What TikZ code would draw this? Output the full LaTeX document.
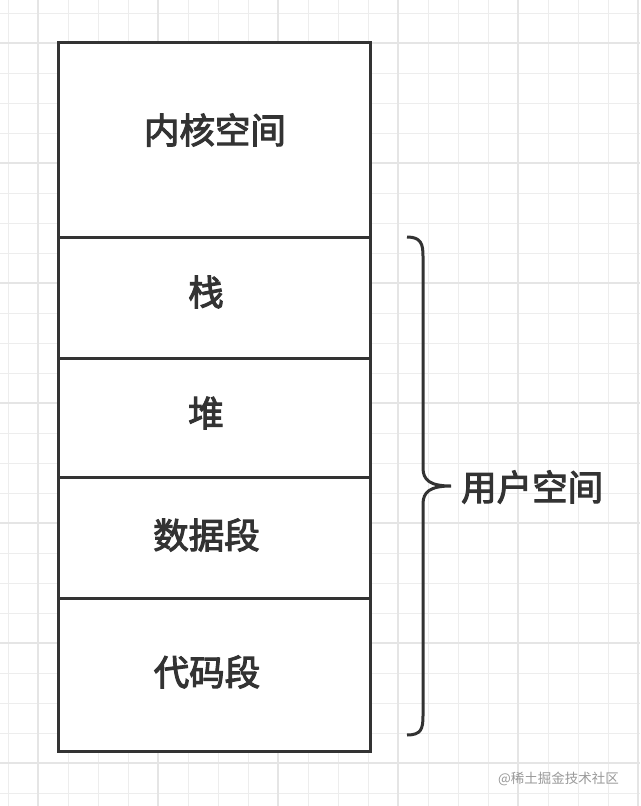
\documentclass[tikz,border=0pt]{standalone}
\usepackage{fontspec}
\newfontfamily\cjk{Noto Sans CJK SC}
\newfontfamily\cjkmid{Noto Sans CJK SC}[FakeBold=3]
\usetikzlibrary{positioning}

\tikzset{
  seg/.style={draw=black!80,line width=3pt,fill=white,minimum width=312pt,inner sep=0pt},
  segtext/.style={font=\cjkmid\fontsize{35.5}{40}\selectfont,text=black!80,inner sep=0pt},
  gridminor/.style={draw=black!7,line width=1pt},
  gridmajor/.style={draw=black!10,line width=1.6pt},
}

\begin{document}
\begin{tikzpicture}[x=1pt,y=-1pt]
\useasboundingbox (0,0) rectangle (640,806);
\fill[white] (0,0) rectangle (640,806);
% background grid
\foreach \i in {0,...,21} \draw[gridminor] (8+30*\i,0) -- (8+30*\i,806);
\foreach \j in {0,...,26} \draw[gridminor] (0,13+30*\j) -- (640,13+30*\j);
\foreach \i in {0,...,5} \draw[gridmajor] (38+120*\i,0) -- (38+120*\i,806);
\foreach \j in {0,...,6} \draw[gridmajor] (0,43+120*\j) -- (640,43+120*\j);

% memory layout
\draw (214,139.5) node[seg,minimum height=195pt](kernel){};
\draw (214,297.5) node[seg,minimum height=121pt](stack){};
\draw (214,417.5) node[seg,minimum height=119pt](heap){};
\draw (214,537.5) node[seg,minimum height=121pt](data){};
\draw (214,674.5) node[seg,minimum height=153pt](code){};
\node[segtext](kerneltxt) at (215,130){内核空间};
\node[segtext](stacktxt) at (206,292){栈};
\node[segtext](heaptxt) at (206,413){堆};
\node[segtext](datatxt) at (206.5,535){数据段};
\node[segtext](codetxt) at (207,672){代码段};

% brace
\coordinate (btop) at (407,237);
\coordinate (bbot) at (407,735);
\coordinate (btip) at (451,486);
\draw[black!80,line width=3pt] (btop) .. controls (421,237) and (423,244) .. (423,256)
  -- (423,468) .. controls (423,480) and (430,486) .. (btip)
  .. controls (430,486) and (423,492) .. (423,504)
  -- (423,716) .. controls (423,729) and (421,735) .. (bbot);
\node[segtext,anchor=west](user) at (461,487){用户空间};

\node[font=\cjk\fontsize{13.5}{16}\selectfont,text=black!40,anchor=east,inner sep=0pt](mark) at (619,779){@稀土掘金技术社区};
\end{tikzpicture}
\end{document}
